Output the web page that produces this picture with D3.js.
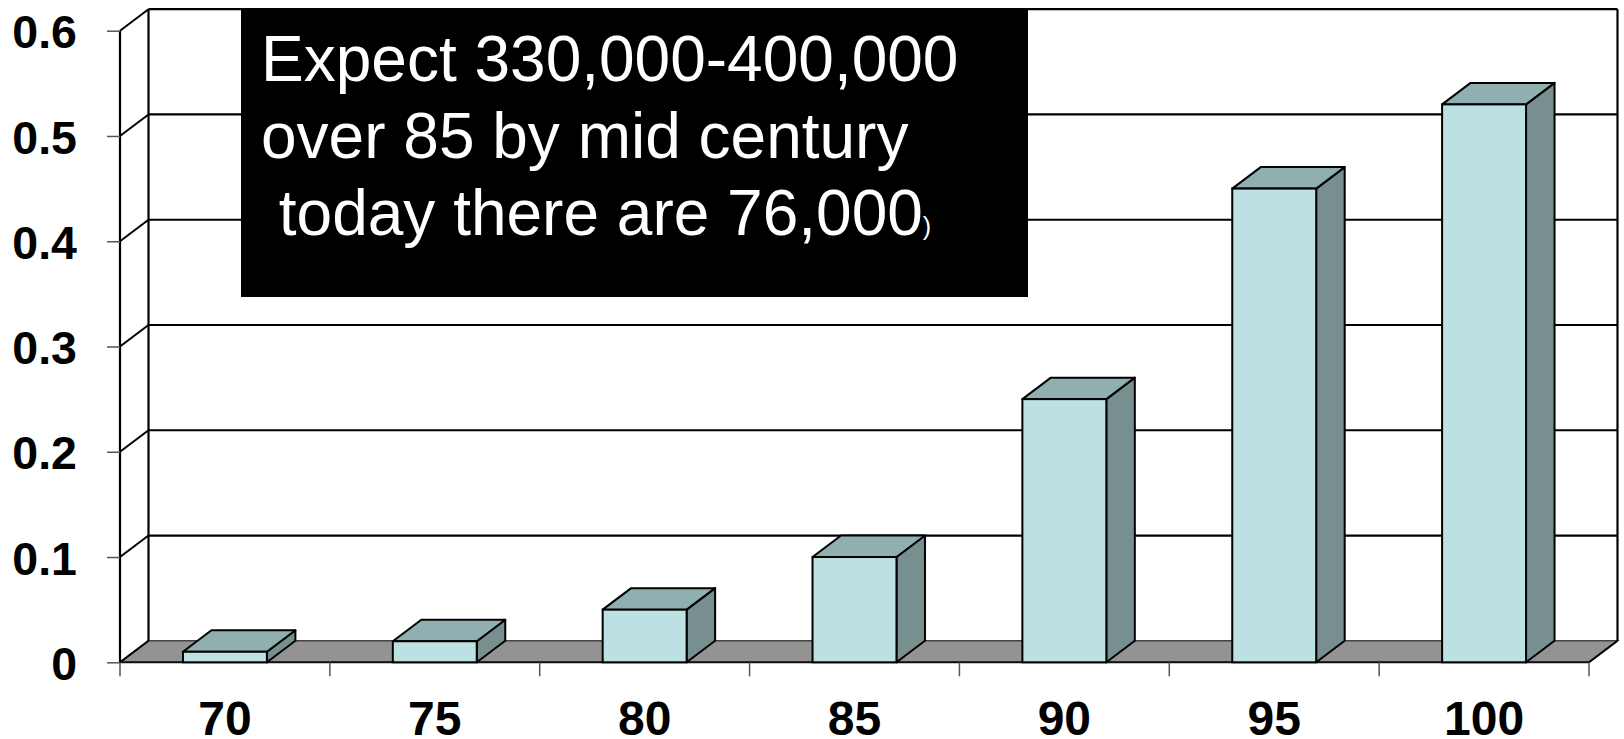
<!DOCTYPE html>
<html>
<head>
<meta charset="utf-8">
<script src="https://cdn.jsdelivr.net/npm/d3@7"></script>
<style>
  html, body { margin: 0; padding: 0; background: #fff; }
  svg { display: block; }
  text { font-family: "Liberation Sans", Arial, sans-serif; }
</style>
</head>
<body>
<svg id="chart" width="1624" height="739"></svg>
<script>
// ---- data ----
const categories = ["70", "75", "80", "85", "90", "95", "100"];
const values = [0.01, 0.02, 0.05, 0.10, 0.25, 0.45, 0.53];
const yTicks = [0, 0.1, 0.2, 0.3, 0.4, 0.5, 0.6];
const yTickLabels = ["0", "0.1", "0.2", "0.3", "0.4", "0.5", "0.6"];
const noteLines = ["Expect 330,000-400,000", "over 85 by mid century", " today there are 76,000"];
const noteTail = ")";

// ---- layout ----
const svg = d3.select("#chart");
const left = 120, right = 1589, y0px = 662.3, y6px = 30.7;
const dx = 28.5, dy = 21.5;

const x = d3.scaleBand().domain(categories).range([left, right])
  .paddingInner(0.6).paddingOuter(0.3);
const y = d3.scaleLinear().domain([0, 0.6]).range([y0px, y6px]);

const colFront = "#bce1e2", colTop = "#8fafb0", colSide = "#788f8f", colFloor = "#939393";

// floor
svg.append("path")
  .attr("d", `M${left},${y(0)} L${left+dx},${y(0)-dy} L${right+dx},${y(0)-dy} L${right},${y(0)} Z`)
  .attr("fill", colFloor).attr("stroke", "#444").attr("stroke-width", 1.5);
svg.append("line").attr("x1", left).attr("x2", right).attr("y1", y(0)).attr("y2", y(0))
  .attr("stroke", "#111").attr("stroke-width", 2);

// back wall gridlines
const gridVals = yTicks.filter(v => v > 0);
svg.append("g").selectAll("line").data(gridVals).join("line")
  .attr("x1", left + dx).attr("x2", right + dx)
  .attr("y1", d => y(d) - dy).attr("y2", d => y(d) - dy)
  .attr("stroke", "#000").attr("stroke-width", 2.2);

// left wall
svg.append("line").attr("x1", left).attr("x2", left).attr("y1", y(0.6)).attr("y2", y(0))
  .attr("stroke", "#000").attr("stroke-width", 2.2);
svg.append("line").attr("x1", left + dx).attr("x2", left + dx).attr("y1", y(0.6) - dy).attr("y2", y(0) - dy)
  .attr("stroke", "#000").attr("stroke-width", 2.2);
svg.append("g").selectAll("line").data(yTicks).join("line")
  .attr("x1", left).attr("x2", left + dx)
  .attr("y1", d => y(d)).attr("y2", d => y(d) - dy)
  .attr("stroke", "#000").attr("stroke-width", 2);

// right wall edge
svg.append("line").attr("x1", right + dx).attr("x2", right + dx).attr("y1", y(0.6) - dy).attr("y2", y(0) - dy)
  .attr("stroke", "#000").attr("stroke-width", 2.2);
svg.append("line").attr("x1", right).attr("x2", right + dx).attr("y1", y(0)).attr("y2", y(0) - dy)
  .attr("stroke", "#000").attr("stroke-width", 2);

// bars
const bars = svg.append("g").selectAll("g").data(categories.map((c, i) => ({c, v: values[i]}))).join("g");
bars.append("path") // side
  .attr("d", d => {
    const x1 = x(d.c) + x.bandwidth(), yt = y(d.v), yb = y(0);
    return `M${x1},${yt} L${x1+dx},${yt-dy} L${x1+dx},${yb-dy} L${x1},${yb} Z`;
  })
  .attr("fill", colSide).attr("stroke", "#000").attr("stroke-width", 2).attr("stroke-linejoin", "round");
bars.append("path") // top
  .attr("d", d => {
    const x0 = x(d.c), x1 = x0 + x.bandwidth(), yt = y(d.v);
    return `M${x0},${yt} L${x0+dx},${yt-dy} L${x1+dx},${yt-dy} L${x1},${yt} Z`;
  })
  .attr("fill", colTop).attr("stroke", "#000").attr("stroke-width", 2).attr("stroke-linejoin", "round");
bars.append("rect") // front
  .attr("x", d => x(d.c)).attr("width", x.bandwidth())
  .attr("y", d => y(d.v)).attr("height", d => y(0) - y(d.v))
  .attr("fill", colFront).attr("stroke", "#000").attr("stroke-width", 2);

// y axis
const yAxis = d3.axisLeft(y).tickValues(yTicks)
  .tickFormat((d, i) => yTickLabels[i]).tickSize(13).tickPadding(30);
const gy = svg.append("g").attr("transform", `translate(${left},0)`).call(yAxis);
gy.select(".domain").remove();
gy.selectAll(".tick line").attr("stroke", "#555").attr("stroke-width", 1.5);
gy.selectAll(".tick text").attr("font-size", 46.5).attr("font-weight", "bold")
  .attr("fill", "#000").attr("dy", "0.37em")
  .style("font-family", '"Liberation Sans", Arial, sans-serif');

// x axis ticks at band boundaries
const bounds = categories.map(c => x(c) - x.step() * 0.3).concat([right]);
svg.append("g").selectAll("line").data(bounds).join("line")
  .attr("x1", d => d).attr("x2", d => d).attr("y1", y(0)).attr("y2", y(0) + 14)
  .attr("stroke", "#555").attr("stroke-width", 1.5);
const xAxis = d3.axisBottom(x).tickSize(0).tickPadding(0);
const gx = svg.append("g").attr("transform", `translate(0,${y(0)})`).call(xAxis);
gx.select(".domain").remove();
gx.selectAll(".tick text").attr("font-size", 48).attr("font-weight", "bold")
  .attr("fill", "#000").attr("dy", null).attr("y", 73)
  .style("font-family", '"Liberation Sans", Arial, sans-serif');

// note box
svg.append("rect").attr("x", 241).attr("y", 10).attr("width", 787).attr("height", 287).attr("fill", "#000");
const note = svg.append("text").attr("fill", "#fff").attr("font-size", 64).style("white-space", "pre");
noteLines.forEach((line, i) => {
  note.append("tspan").attr("x", 261).attr("y", 81 + i * 77).text(line);
});
note.append("tspan").attr("font-size", 25).text(noteTail);
</script>
</body>
</html>
